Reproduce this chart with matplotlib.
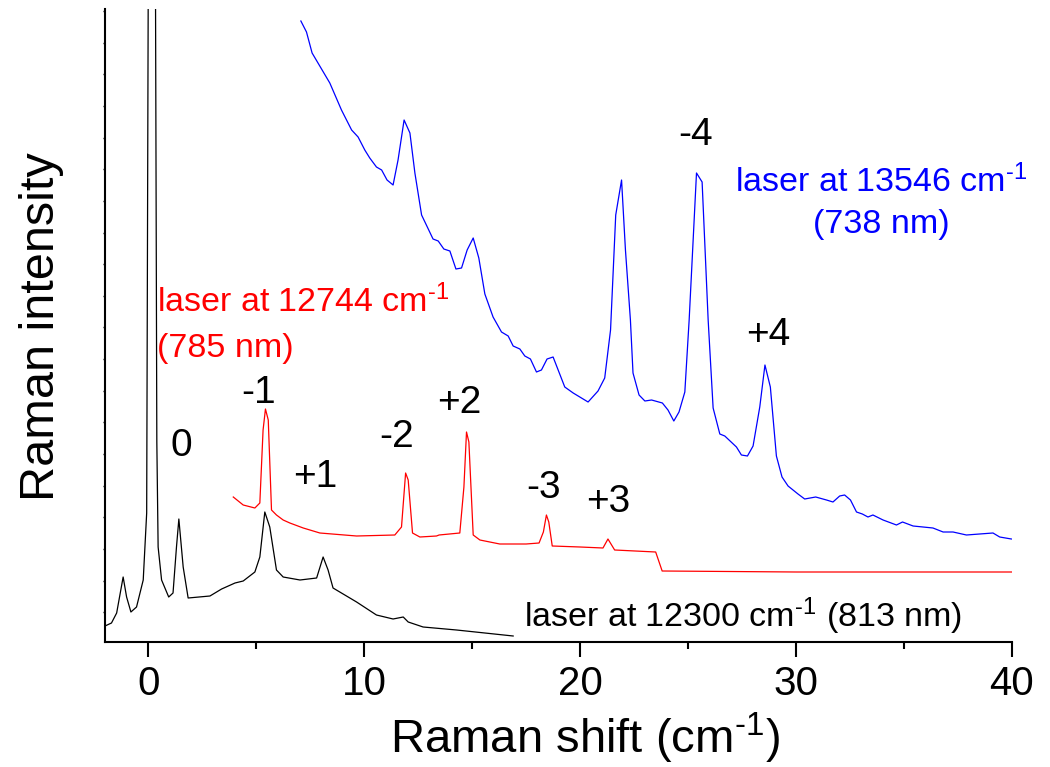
import numpy as np
import matplotlib.pyplot as plt

plt.rcParams['font.family'] = ['Liberation Sans', 'DejaVu Sans']
plt.rcParams['mathtext.fontset'] = 'custom'
plt.rcParams['mathtext.rm'] = 'Liberation Sans'
plt.rcParams['mathtext.it'] = 'Liberation Sans:italic'
plt.rcParams['mathtext.default'] = 'regular'

# --- spectra (x = Raman shift in cm-1, y = arbitrary intensity) ---
# laser at 12300 cm-1 (813 nm), black; the laser line at ~0.17 runs off the top
black_x = [-2.0, -1.7, -1.46, -1.16, -1.0, -0.8, -0.54, -0.23, -0.07, 0.0, 0.17,
           0.34, 0.40, 0.46, 0.62, 0.95, 1.15, 1.31, 1.42, 1.62, 1.85, 2.86, 3.40,
           4.02, 4.40, 4.94, 5.17, 5.40, 5.63, 5.94, 6.25, 7.03, 7.80, 8.10, 8.33,
           8.56, 9.65, 10.57, 11.34, 11.81, 12.04, 12.73, 14.28, 16.90]
black_y = [16, 19, 29, 65, 45, 30, 35, 62, 129, 640, 5000,
           640, 200, 95, 62, 45, 49, 95, 123, 75, 44, 46, 53,
           59, 61, 70, 85, 130, 115, 72, 65, 62, 64, 85, 72,
           54, 40, 27, 23, 25, 20, 15, 12, 6]

# laser at 12744 cm-1 (785 nm), red
red_x = [3.94, 4.40, 4.94, 5.17, 5.32, 5.43, 5.56, 5.71, 5.94, 6.25, 6.56, 7.18,
         7.95, 9.65, 11.42, 11.73, 11.92, 12.04, 12.24, 12.58, 13.35, 13.47, 14.43,
         14.62, 14.74, 14.85, 15.05, 15.36, 16.28, 17.5, 18.1, 18.3, 18.44, 18.55,
         18.71, 20.0, 21.06, 21.29, 21.6, 23.5, 23.8, 30.0, 40.0]
red_y = [145, 137, 134, 139, 212, 233, 222, 132, 127, 122, 119, 114,
         109, 106, 107, 115, 169, 162, 109, 105, 106, 107, 109,
         155, 210, 200, 107, 102, 98, 98, 99, 110, 127, 120,
         96, 95, 94, 103, 92, 90, 71, 70, 70]

# laser at 13546 cm-1 (738 nm), blue
blue_x = [7.07, 7.33, 7.59, 8.41, 8.95, 9.42, 9.72, 10.03, 10.26, 10.57, 10.81,
          11.06, 11.34, 11.57, 11.85, 12.12, 12.35, 12.66, 13.19, 13.43, 13.69,
          13.97, 14.25, 14.51, 14.77, 15.05, 15.31, 15.59, 15.97, 16.36, 16.67,
          16.90, 17.21, 17.44, 17.70, 17.98, 18.21, 18.47, 18.75, 19.29, 19.68,
          20.37, 20.83, 21.14, 21.41, 21.65, 21.92, 22.10, 22.33, 22.45, 22.73,
          23.00, 23.31, 23.81, 24.07, 24.34, 24.58, 24.85, 25.05, 25.39, 25.65,
          25.93, 26.16, 26.47, 26.70, 27.24, 27.47, 27.75, 28.01, 28.32, 28.56,
          28.81, 29.09, 29.35, 29.63, 30.09, 30.40, 30.91, 31.41, 31.71, 32.02,
          32.25, 32.52, 32.80, 33.07, 33.33, 33.56, 34.03, 34.65, 34.93, 35.42,
          36.34, 36.81, 37.27, 37.89, 38.50, 39.12, 39.43, 39.97]
blue_y = [621, 610, 589, 559, 532, 512, 505, 492, 484, 475, 472,
          462, 457, 482, 522, 509, 469, 427, 403, 401, 393,
          391, 373, 374, 392, 404, 384, 348, 325, 310, 306,
          296, 293, 286, 283, 270, 272, 283, 285, 255, 249,
          240, 251, 264, 312, 427, 462, 392, 322, 269, 247,
          241, 242, 239, 232, 221, 230, 250, 322, 469, 460,
          322, 234, 208, 206, 195, 187, 186, 196, 235, 277,
          255, 186, 165, 156, 148, 143, 145, 142, 140, 146,
          147, 142, 130, 128, 125, 127, 122, 117, 120, 116,
          114, 110, 110, 107, 108, 109, 105, 103]

# peak labels
peak_labels = ['0', '-1', '+1', '-2', '+2', '-3', '+3', '-4', '+4']
peak_label_x = [1.55, 5.12, 7.73, 11.52, 14.43, 18.30, 21.29, 25.36, 28.72]
peak_label_y = [186, 239, 155, 195, 229, 144, 130, 497, 297]

# superscript "-1" drawn with a real hyphen rather than a math minus
inv_cm = 'cm$^{\u2010 1}$'

fig = plt.figure(figsize=(10.5, 7.67), dpi=100)
ax = fig.add_axes([105 / 1050, 125 / 767, 907 / 1050, 633 / 767])

ax.plot(black_x, black_y, color='black', lw=0.9)
ax.plot(red_x, red_y, color='#ff0000', lw=0.9)
ax.plot(blue_x, blue_y, color='#0000ff', lw=0.9)

for lab, x, y in zip(peak_labels, peak_label_x, peak_label_y):
    ax.text(x, y, lab, fontsize=28, ha='center', va='baseline')

# laser annotations
ax.text(0.43, 330, 'laser at 12744 ' + inv_cm, color='#ff0000', fontsize=24.5, va='baseline')
ax.text(0.43, 285, '(785 nm)', color='#ff0000', fontsize=24.5, va='baseline')
ax.text(33.93, 450, 'laser at 13546 ' + inv_cm, color='#0000ff', fontsize=24.5,
        ha='center', va='baseline')
ax.text(33.93, 409, '(738 nm)', color='#0000ff', fontsize=24.5, ha='center', va='baseline')
ax.text(17.39, 15, 'laser at 12300 ' + inv_cm + ' (813 nm)', color='black', fontsize=24.5,
        va='baseline')

# --- axes ---
ax.set_xlim(-2, 40)
ax.set_ylim(0, 633)
ax.spines['top'].set_visible(False)
ax.spines['right'].set_visible(False)
ax.spines['left'].set_linewidth(1.5)
ax.spines['bottom'].set_linewidth(1.5)

ax.set_xticks([0, 10, 20, 30, 40])
ax.set_xticks([5, 15, 25, 35], minor=True)
ax.tick_params(axis='x', which='major', direction='out', length=10.5, width=1.5,
               labelsize=29, pad=6)
ax.tick_params(axis='x', which='minor', direction='out', length=5, width=1.5)

# tiny unlabeled ticks along the intensity axis
ax.set_yticks(np.arange(29.7, 633, 31.65))
ax.tick_params(axis='y', which='major', direction='out', length=1.8, width=1,
               labelleft=False)

ax.set_xlabel('Raman shift (' + inv_cm + ')', fontsize=34)
ax.xaxis.label.set_va('baseline')
ax.xaxis.set_label_coords(0.529, -0.1758)
ax.set_ylabel('Raman intensity', fontsize=35)
ax.yaxis.set_label_coords(-0.045, 0.498)

plt.savefig('out.png', dpi=100)
